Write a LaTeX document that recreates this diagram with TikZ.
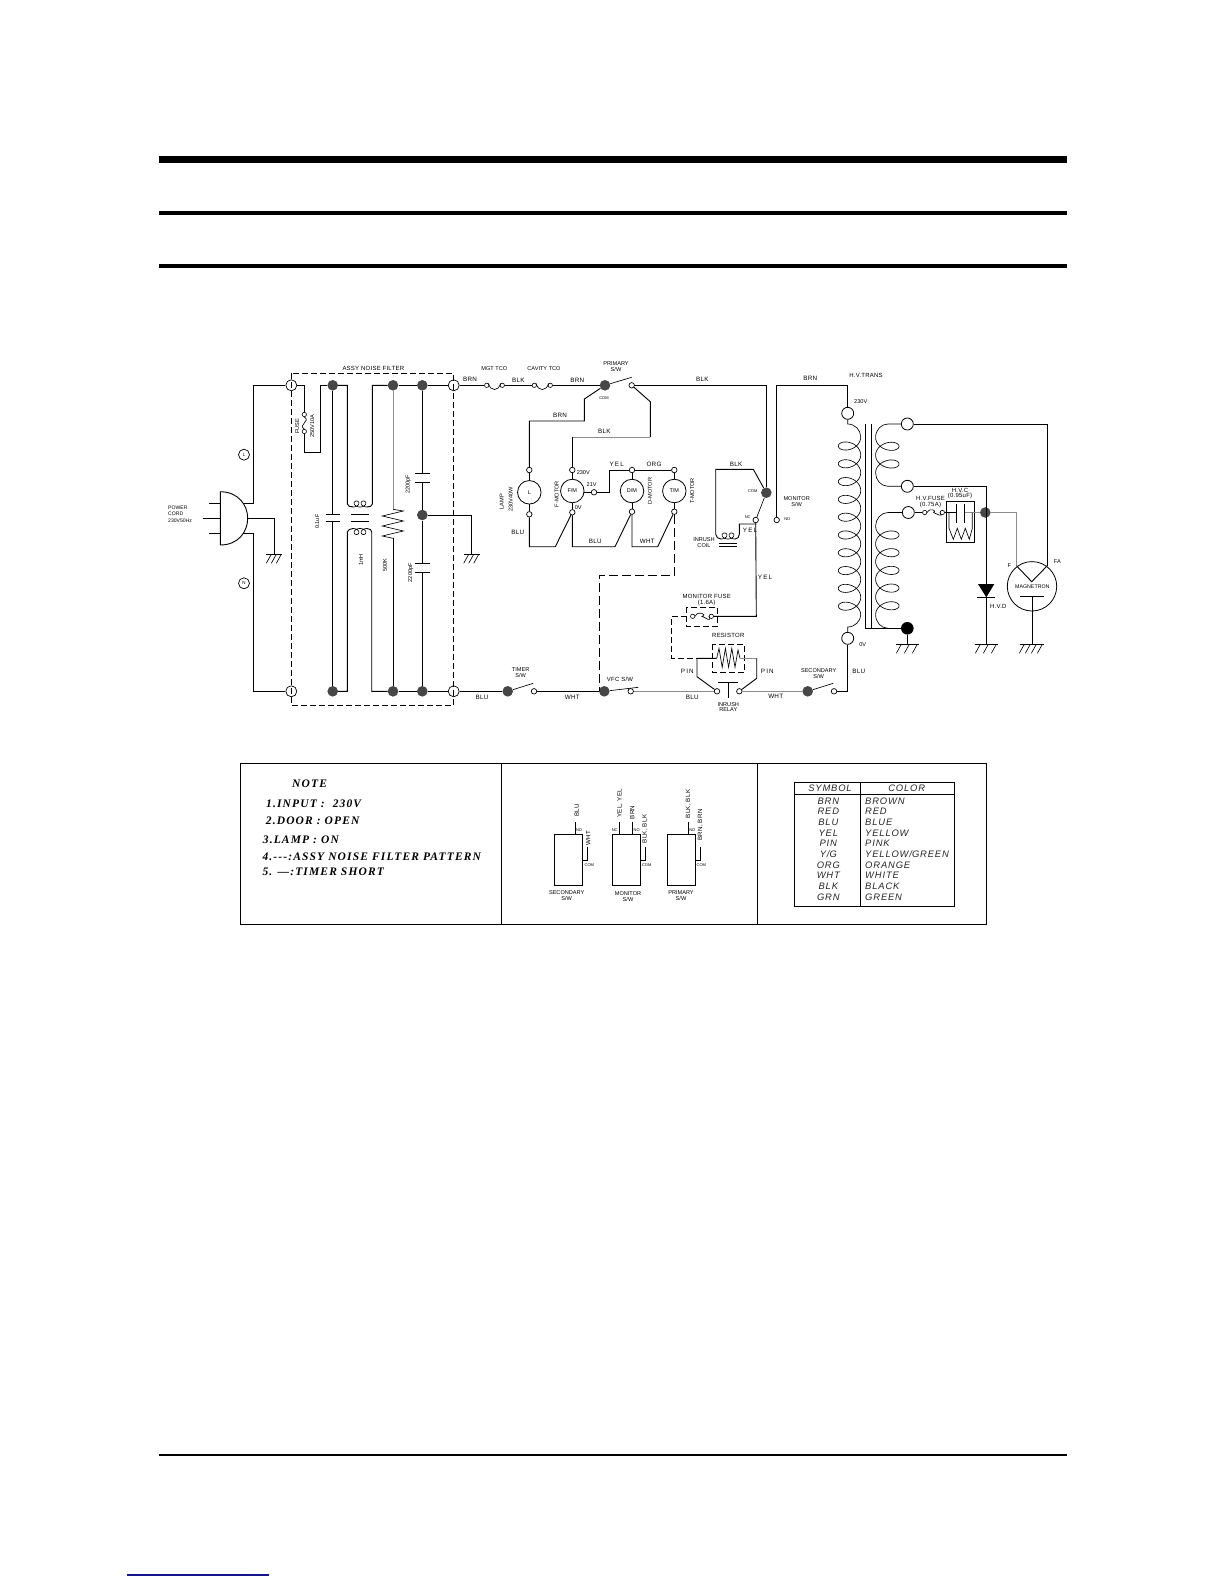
\documentclass[tikz,border=0pt]{standalone}
\usepackage{fontspec}
\setmainfont{Liberation Sans}
\newfontfamily\wirefont[LetterSpace=4]{Liberation Sans}
\newfontfamily\spacedfont[LetterSpace=18]{Liberation Sans}
\newfontfamily\tablefont[LetterSpace=9]{Liberation Sans}
\newfontfamily\notefont[LetterSpace=10]{Liberation Serif}
\usepackage{tikz}
\definecolor{pageBlue}{RGB}{20, 20, 140}
\tikzset{
    wire/.style={line width=0.9pt},
    grayWire/.style={line width=0.9pt, draw=black!45},
    thinLine/.style={line width=0.65pt},
    noiseDash/.style={line width=0.9pt, dash pattern=on 6pt off 3pt},
    shortDash/.style={line width=0.9pt, dash pattern=on 9pt off 4pt},
    term/.style={circle, draw, fill=white, line width=0.7pt, inner sep=0pt, minimum size=5.5pt},
    fuseEnd/.style={circle, draw, fill=white, line width=0.6pt, inner sep=0pt, minimum size=4.4pt},
    portTerm/.style={circle, draw, fill=white, line width=0.7pt, inner sep=0pt, minimum size=11pt},
    hvTerm/.style={circle, draw, fill=white, line width=0.8pt, inner sep=0pt, minimum size=12pt},
    junction/.style={circle, fill=black!72, inner sep=0pt, minimum size=10.6pt},
    motor/.style={circle, draw, line width=0.8pt, inner sep=0pt, minimum size=23.5pt, font=\fontsize{5.5}{6}\selectfont},
    tiny/.style={inner sep=0pt, align=center, font=\fontsize{5.6}{5.9}\selectfont},
    micro/.style={inner sep=0pt, font=\fontsize{4}{4}\selectfont},
    hvText/.style={inner sep=0pt, align=center, font=\wirefont\fontsize{6}{5.8}\selectfont},
    wireText/.style={inner sep=0pt, font=\wirefont\fontsize{6.3}{7}\selectfont},
    wideText/.style={inner sep=0pt, font=\spacedfont\fontsize{6.3}{7}\selectfont},
    swText/.style={inner sep=0pt, rotate=90, font=\wirefont\fontsize{6.2}{6}\selectfont},
    noteText/.style={inner sep=0pt, anchor=west, font=\notefont\bfseries\itshape\fontsize{11.5}{12}\selectfont},
    tableText/.style={inner sep=0pt, text=black!85, font=\tablefont\itshape\fontsize{9.4}{10}\selectfont},
}
\newcommand{\gndmark}[3]{%
    \begin{scope}[shift={(#1)}]
        \draw[wire] (-#2,0) -- (#2,0);
        \foreach \s in {#3} {\draw[thinLine] (\s,0) -- ++(-5,9);}
    \end{scope}}
\newcommand{\coilrun}[3]{plot[domain=0:720, samples=73] ({#1+0.01944*\x+4*sin(\x)},{#2+#3*3*(1-cos(\x))})}
\begin{document}
\begin{tikzpicture}[x=1pt, y=-1pt]
    \useasboundingbox (0,0) rectangle (1224,1584);
    \fill[black] (159,156) rectangle (1067,163);
    \fill[black] (159,210.7) rectangle (1067,215);
    \fill[black] (159,264) rectangle (1067,268.3);
    \fill[black] (159,1453.7) rectangle (1067,1456);
    \fill[pageBlue] (127,1574.3) rectangle (269,1575.6);

    % plug and mains side
    \node[portTerm] (termTL) at (291.3,385.3) {};
    \node[portTerm] (termBL) at (291.3,691.3) {};
    \node[portTerm] (termTR) at (453.7,385.3) {};
    \node[portTerm] (termBR) at (453.7,691.3) {};
    \node[circle, draw, line width=0.7pt, inner sep=0pt, minimum size=11pt, font=\fontsize{4.5}{5}\selectfont] (markL) at (244,454.7) {L};
    \node[circle, draw, line width=0.7pt, inner sep=0pt, minimum size=11pt, font=\fontsize{4.5}{5}\selectfont] (markN) at (244,583.3) {N};
    \coordinate (plugL) at (242.7,503.3);
    \coordinate (plugN) at (242.7,533.3);
    \coordinate (plugG) at (247.7,518.3);
    \coordinate (gndPlug) at (274.3,554.3);
    \draw[wire] (220.3,491.7) .. controls (238,491.7) and (247.7,505) .. (plugG) .. controls (247.7,532) and (238,545) .. (220.3,545) -- cycle;
    \draw[wire] (209,503.3) -- (220.3,503.3);
    \draw[wire] (202.7,518.3) -- (220.3,518.3);
    \draw[wire] (209,533.3) -- (220.3,533.3);
    \draw[wire] (termTL) -- (253.3,385.3) -- (253.3,503.3) -- (plugL);
    \draw[wire] (termBL) -- (253.3,691.3) -- (253.3,533.3) -- (plugN);
    \draw[wire] (plugG) -| (gndPlug);
    \gndmark{gndPlug}{8}{-3,2,7}
    \node[tiny, align=left, anchor=west, font=\fontsize{5.1}{6.6}\selectfont] (powerCord) at (168,514) {POWER\\CORD\\230V50Hz};

    % noise filter
    \node[junction] (dotA) at (332.7,385.3) {};
    \node[junction] (dotB) at (393,385.3) {};
    \node[junction] (dotC) at (422.3,385.3) {};
    \node[junction] (dotD) at (332.7,691.3) {};
    \node[junction] (dotE) at (393,691.3) {};
    \node[junction] (dotF) at (422.3,691.3) {};
    \node[junction] (dotG) at (422.3,515) {};
    \node[fuseEnd] (fuseA) at (304.3,414.5) {};
    \node[fuseEnd] (fuseB) at (304.3,431.5) {};
    \draw[wire] (termTL) -- (304.3,385.3) -- (fuseA);
    \draw[wire] (fuseB) -- (304.3,452.3) -- (320.7,452.3) -- (320.7,385.3) -- (dotA);
    \draw[thinLine] (fuseA.south) .. controls +(7,4) and +(-7,-4) .. (fuseB.north);
    \draw[wire] (dotA) -- (332.7,514);
    \draw[wire] (325.7,514) -- (340,514);
    \draw[wire] (325.7,521.7) -- (340,521.7);
    \draw[wire] (332.7,521.7) -- (dotD);
    \draw[wire] (dotA) -- (347.3,385.3) -- (347.3,504) .. controls (348,506) and (350,507) .. (353,507);
    \draw[thinLine] \coilrun{353}{507}{-1};
    \draw[wire] (367,507) .. controls (370,507) and (372.3,506) .. (372.3,504) -- (372.3,385.3) -- (dotB);
    \draw[wire] (351,514) -- (369,514);
    \draw[wire] (351,521.7) -- (369,521.7);
    \draw[wire] (dotD) -- (347.3,691.3) -- (347.3,532) .. controls (348,530) and (350,528.5) .. (353,528.5);
    \draw[thinLine] \coilrun{353}{528.5}{1};
    \draw[wire] (367,528.5) .. controls (370,528.5) and (371.7,530) .. (371.7,532) -- (371.7,691.3) -- (dotE);
    \draw[grayWire] (dotB) -- (393,509.3);
    \draw[thinLine] (393,509.3) -- (403.3,511) -- (382.3,516) -- (403.3,521) -- (382.3,526) -- (403.3,531) -- (382.3,536) -- (393,538.3);
    \draw[wire] (393,538.3) -- (dotE);
    \draw[wire] (dotB) -- (dotC) -- (termTR);
    \draw[wire] (dotE) -- (dotF) -- (termBR);
    \draw[wire] (dotC) -- (422.3,473.3);
    \draw[wire] (414.8,473.3) -- (429.8,473.3);
    \draw[wire] (414.8,482.3) -- (429.8,482.3);
    \draw[wire] (422.3,482.3) -- (dotG);
    \draw[wire] (dotG) -- (422.3,563.3);
    \draw[wire] (414.8,563.3) -- (429.8,563.3);
    \draw[wire] (414.8,572.3) -- (429.8,572.3);
    \draw[wire] (422.3,572.3) -- (dotF);
    \coordinate (gndFilter) at (471.7,554.3);
    \draw[wire] (dotG) -| (gndFilter);
    \gndmark{gndFilter}{8}{-3,2,7}
    \draw[noiseDash] (291.3,373.3) rectangle (453.7,705.3);
    \node[hvText] (filterName) at (373.3,368) {ASSY NOISE FILTER};
    \node[tiny, rotate=90] (fuseName) at (297.3,426) {FUSE};
    \node[tiny, rotate=90] (fuseVal) at (312.3,426) {250V10A};
    \node[tiny, rotate=90] (capVal) at (317.3,521.7) {0.1uF};
    \node[tiny, rotate=90] (chokeVal) at (361,560) {1mH};
    \node[tiny, rotate=90] (resVal) at (385,565) {500K};
    \node[tiny, rotate=90] (capTop) at (408.3,484.3) {2200pF};
    \node[tiny, rotate=90] (capBot) at (410.7,572.7) {2200pF};

    % top row with door switch
    \node[fuseEnd] (mgtA) at (486.7,385.3) {};
    \node[fuseEnd] (mgtB) at (502.3,385.3) {};
    \node[fuseEnd] (cavA) at (534.3,385.3) {};
    \node[fuseEnd] (cavB) at (550.3,385.3) {};
    \node[junction] (dotPri) at (605,385.3) {};
    \node[term] (termPri) at (631.7,385.3) {};
    \coordinate (bladePri) at (631.7,377.3);
    \draw[wire] (termTR) -- (mgtA);
    \draw[thinLine] (mgtA.north east) .. controls +(2,8) and +(-2,8) .. (mgtB.north west);
    \draw[wire] (mgtB) -- (cavA);
    \draw[thinLine] (cavA.north east) .. controls +(2,8) and +(-2,8) .. (cavB.north west);
    \draw[wire] (cavB) -- (dotPri);
    \draw[thinLine] (dotPri) -- (bladePri);

    % motors
    \node[term] (lampTop) at (529.3,470) {};
    \node[motor] (lamp) at (529.3,492.3) {L};
    \node[term] (lampBot) at (529.3,514.3) {};
    \node[term] (fanTop) at (572.3,470) {};
    \node[motor] (fan) at (572.3,491) {F/M};
    \node[term] (fanBot) at (572.3,512.3) {};
    \node[term] (fanTap) at (594,492.3) {};
    \node[term] (dampTop) at (632,470) {};
    \node[motor] (damp) at (632,491) {D/M};
    \node[term] (dampBot) at (632,511.7) {};
    \node[term] (turnTop) at (674.3,470) {};
    \node[motor] (turn) at (674.3,491) {T/M};
    \node[term] (turnBot) at (674.3,511.7) {};
    \draw[wire] (dotPri) -- (584.3,399) -- (584.3,421) -- (529.3,421) -- (lampTop);
    \draw[wire] (termPri) -- (650.3,401.7) -- (650.3,437);
    \draw[grayWire] (650.3,437) -- (572.3,437);
    \draw[wire] (572.3,437) -- (fanTop);
    \draw[wire] (lampTop) -- (lamp);
    \draw[wire] (lamp) -- (lampBot);
    \draw[wire] (fanTop) -- (fan);
    \draw[wire] (fan) -- (fanBot);
    \draw[wire] (fan.east |- fanTap) -- (fanTap);
    \draw[wire] (fanTap) -- (609.3,492.3) -- (609.3,470) -- (dampTop);
    \draw[wire] (dampTop) -- (turnTop);
    \draw[wire] (dampTop) -- (damp);
    \draw[wire] (damp) -- (dampBot);
    \draw[wire] (turnTop) -- (turn);
    \draw[wire] (turn) -- (turnBot);
    \draw[wire] (lampBot) -- (529.3,546.7) -- (555.3,546.7) -- (fanBot);
    \draw[wire] (fanBot) -- (572.3,546.7) -- (615,546.7) -- (dampBot);
    \draw[wire] (dampBot) -- (632,546.7) -- (657.7,546.7) -- (turnBot);

    % bottom row
    \node[junction] (dotTimer) at (507.7,691.3) {};
    \node[term] (termTimer) at (534,691.3) {};
    \coordinate (bladeTimer) at (533.3,683.3);
    \node[junction] (dotVfc) at (604.3,691.3) {};
    \node[term] (termVfc) at (630.7,691.3) {};
    \coordinate (bladeVfc) at (638.3,687.3);
    \node[term] (relayL) at (717,691.3) {};
    \node[term] (relayR) at (739.3,691.3) {};
    \node[junction] (dotSec) at (807.7,691.3) {};
    \node[term] (termSec) at (834,691.3) {};
    \coordinate (bladeSec) at (833.3,683.3);
    \draw[wire] (termBR) -- (dotTimer);
    \draw[thinLine] (dotTimer) -- (bladeTimer);
    \draw[wire] (termTimer) -- (dotVfc);
    \draw[thinLine] (dotVfc) -- (bladeVfc);
    \draw[grayWire] (termVfc) -- (relayL);
    \draw[grayWire] (relayR) -- (dotSec);
    \draw[thinLine] (dotSec) -- (bladeSec);
    \draw[shortDash] (turnBot) -- (674.3,575.3) -- (599.3,575.3) -- (599.3,691.3);
    \draw[wire] (718.3,682.3) -- (738.3,682.3);
    \draw[wire] (728.3,682.3) -- (728.3,698.3);

    % monitor switch and inrush coil
    \node[junction] (dotMon) at (766.3,492.7) {};
    \node[term] (termNc) at (755.7,520) {};
    \node[term] (termNo) at (776.7,520) {};
    \node[fuseEnd] (monFuseA) at (692.7,616.3) {};
    \node[fuseEnd] (monFuseB) at (711.3,616.3) {};
    \draw[wire] (termPri) -- (766.3,385.3) -- (dotMon);
    \draw[thinLine] (dotMon) -- (termNc);
    \draw[wire] (dotMon) -- (753.3,469.3) -- (715.7,469.3) -- (715.7,534.3) .. controls (716,537) and (718,539) .. (721,539);
    \draw[thinLine] \coilrun{721}{539}{-1};
    \draw[wire] (735,539) .. controls (737.5,539) and (739.3,537) .. (739.3,534.3) -- (739.3,524) -- (756.3,524);
    \draw[wire] (719,543.3) -- (736.7,543.3);
    \draw[wire] (719,546.7) -- (736.7,546.7);
    \draw[wire] (termNc.south) -- (756.3,616.3) -- (monFuseB);
    \draw[thinLine] (monFuseA.east) .. controls +(3,-7) and +(6,-1) .. (702,616.3) .. controls +(3,1) and +(4,7) .. (monFuseB.west);
    \draw[wire] (termNo) -- (776.7,385.3) -- (847.7,385.3) -- (847.7,407);
    \draw[noiseDash] (686.7,607) rectangle (717.7,626.3);
    \draw[noiseDash] (686.7,616.3) -- (671.7,616.3) -- (671.7,658.3) -- (697,658.3);
    \draw[noiseDash] (712.3,644.3) rectangle (744.7,672.3);
    \draw[wire] (relayL) -- (697,676.7) -- (697,658.3) -- (716.7,658.3);
    \draw[thinLine] (716.7,658.3) -- (719,648.3) -- (722.2,667.3) -- (725.4,648.3) -- (728.6,667.3) -- (731.8,648.3) -- (735,667.3) -- (738,650) -- (740,658.3);
    \draw[grayWire] (740,658.3) -- (756.7,658.3);
    \draw[wire] (756.7,658.3) -- (756.7,678.3) -- (relayR);

    % hv transformer
    \node[hvTerm] (hvTop) at (847.7,413.3) {};
    \node[hvTerm] (hvBot) at (847.7,638.3) {};
    \node[hvTerm] (secA) at (907.3,424) {};
    \node[hvTerm] (secB) at (907.3,486.3) {};
    \node[hvTerm] (secC) at (908.3,512.5) {};
    \node[circle, fill=black, inner sep=0pt, minimum size=12.6pt] (coreDot) at (907.3,628.3) {};
    \draw[wire] (termSec) -- (847.7,691.3) -- (hvBot);
    \draw[thinLine] (hvTop) -- (847.7,424) .. controls (855,424) and (860.7,430) .. (860.7,437);
    \draw[thinLine] plot[domain=0:3600, samples=361] ({849.5+11.2*cos(\x)},{446+0.04944*(\x-180)+8*sin(\x)});
    \draw[thinLine] (860.7,615) .. controls (860.7,621) and (855,627) .. (847.7,627) -- (hvBot);
    \draw[wire] (871.3,424) -- (871.3,628.3) -- (865.7,628.3) -- (865.7,424);
    \draw[wire] (871.3,628.3) -- (coreDot);
    \draw[thinLine] (secA) -- (888,424) .. controls (881,424) and (875.6,430) .. (875.6,437.4);
    \draw[thinLine] plot[domain=-180:540, samples=73] ({887.3+11.7*cos(\x)},{446.3+0.04917*\x-8*sin(\x)});
    \draw[thinLine] (875.6,472.9) .. controls (875.6,480) and (881,486.3) .. (888,486.3) -- (secB);
    \draw[thinLine] (secC) -- (888,512.5) .. controls (881,512.5) and (875.6,519) .. (875.6,526);
    \draw[thinLine] plot[domain=-180:1620, samples=181] ({887.3+11.7*cos(\x)},{535+0.04917*\x-8*sin(\x)});
    \draw[thinLine] (875.6,614.6) .. controls (875.6,622) and (881,628.3) .. (888,628.3);
    \coordinate (gndCore) at (907.3,644.3);
    \draw[wire] (coreDot) -- (gndCore);
    \gndmark{gndCore}{11.5}{-6,2,10}

    % hv circuit and magnetron
    \node[junction] (dotHv) at (985.3,512.5) {};
    \node[fuseEnd] (hvFuseA) at (924.7,512.5) {};
    \node[fuseEnd] (hvFuseB) at (942.3,512.5) {};
    \node[circle, draw, line width=0.8pt, inner sep=0pt, minimum size=49.4pt] (magnetron) at (1032,586.3) {};
    \coordinate (gndDiode) at (986.3,644.3);
    \coordinate (gndMag) at (1032.3,644.3);
    \coordinate (magF) at (1016.7,566);
    \coordinate (magFa) at (1047.5,565.5);
    \draw[wire] (secA) -- (1047.5,424) -- (magFa);
    \draw[wire] (secB) -- (986.3,486.3) -- (986.3,584);
    \draw[wire] (secC) -- (hvFuseA);
    \draw[thinLine] (hvFuseA.east) .. controls +(3,-6) and +(4,-1) .. (933.5,512.5) .. controls +(3,1) and +(4,6) .. (hvFuseB.west);
    \draw[wire] (hvFuseB) -- (956,512.5);
    \draw[thinLine] (946.7,501.3) rectangle (974.5,542.2);
    \draw[wire] (956,504) -- (956,523.3);
    \draw[wire] (964.7,504) -- (964.7,523.3);
    \draw[grayWire] (964.7,512.5) -- (dotHv);
    \draw[grayWire] (dotHv) -- (1016.7,512.5) -- (magF);
    \draw[thinLine] (949,512.5) -- (949,528.3) -- (953.3,539.3) -- (957.3,528.3) -- (961.3,539.3) -- (965.3,528.3) -- (969.3,539.3) -- (972.3,528.3) -- (972.3,512.5);
    \fill[black] (978,584) -- (994.3,584) -- (986.3,597.3) -- cycle;
    \draw[wire] (977.3,597.3) -- (995,597.3);
    \draw[wire] (986.3,597.3) -- (gndDiode);
    \gndmark{gndDiode}{11.8}{-6,2,10}
    \draw[wire] (magF) -- (1031.7,581.7) -- (magFa);
    \draw[wire] (1020,596.7) -- (1044,596.7);
    \draw[wire] (1032.3,596.7) -- (gndMag);
    \gndmark{gndMag}{12}{-8,-2,4,10}

    % wire colours
    \node[wireText] (brnA) at (470,379.5) {BRN};
    \node[wireText] (blkA) at (518.3,380) {BLK};
    \node[wireText] (brnB) at (577.3,380) {BRN};
    \node[wireText] (blkB) at (702.3,379.7) {BLK};
    \node[wireText] (brnC) at (810.3,378.7) {BRN};
    \node[wireText] (brnD) at (560,415) {BRN};
    \node[wireText] (blkC) at (604.3,431.3) {BLK};
    \node[wireText] (bluA) at (517.7,532.3) {BLU};
    \node[wireText] (bluB) at (595.3,541.3) {BLU};
    \node[wireText] (whtA) at (647.3,541.3) {WHT};
    \node[wideText] (yelA) at (616.7,464.7) {YEL};
    \node[wireText] (orgA) at (654,464.7) {ORG};
    \node[wireText] (blkD) at (736,464.7) {BLK};
    \node[wideText] (yelB) at (750,530.7) {YEL};
    \node[wideText] (yelC) at (765,577.3) {YEL};
    \node[wireText] (bluC) at (482,697.3) {BLU};
    \node[wireText] (whtB) at (572.3,697.7) {WHT};
    \node[wireText] (bluD) at (692.3,697.3) {BLU};
    \node[wireText] (whtC) at (775.7,696.7) {WHT};
    \node[wireText] (bluE) at (858.7,671.3) {BLU};
    \node[wideText] (pinA) at (687.3,671.7) {PIN};
    \node[wideText] (pinB) at (767.3,671.7) {PIN};

    % part names
    \node[tiny] (tcoA) at (494.3,368.3) {MGT TCO};
    \node[tiny] (tcoB) at (544,368.3) {CAVITY TCO};
    \node[tiny] (priName) at (616,367) {PRIMARY\\S/W};
    \node[micro] (priCom) at (604,398.3) {COM};
    \node[tiny, rotate=90] (lampName) at (501.7,501.7) {LAMP};
    \node[tiny, rotate=90] (lampVal) at (510.7,499.3) {230V40W};
    \node[tiny, rotate=90] (fanName) at (556.7,494) {F-MOTOR};
    \node[tiny, rotate=90] (dampName) at (650,491) {D-MOTOR};
    \node[tiny, rotate=90] (turnName) at (692.3,491) {T-MOTOR};
    \node[tiny] (fan230) at (583.3,473) {230V};
    \node[tiny] (fan21) at (591.7,485) {21V};
    \node[tiny] (fan0) at (578.3,508) {0V};
    \node[micro] (monCom) at (752.7,491) {COM};
    \node[micro] (monNc) at (747.7,516.7) {NC};
    \node[micro] (monNo) at (787.3,519.3) {NO};
    \node[tiny] (monName) at (796.7,501.7) {MONITOR\\S/W};
    \node[tiny] (coilName) at (704,542.5) {INRUSH\\COIL};
    \node[hvText] (fuseMonName) at (706.7,600) {MONITOR FUSE\\(1.6A)};
    \node[hvText] (resName) at (728.3,635.7) {RESISTOR};
    \node[tiny] (relayName) at (728.3,707) {INRUSH\\RELAY};
    \node[tiny] (timerName) at (520.7,672.5) {TIMER\\S/W};
    \node[hvText] (vfcName) at (620,679.3) {VFC S/W};
    \node[tiny] (secName) at (818.7,674) {SECONDARY\\S/W};
    \node[hvText] (hvName) at (866,375.7) {H.V.TRANS};
    \node[tiny] (hv230) at (860.7,401.7) {230V};
    \node[tiny] (hv0) at (862.7,645) {0V};
    \node[hvText] (hvFuseName) at (930.5,502) {H.V.FUSE\\(0.75A)};
    \node[hvText] (hvCapName) at (960,493.5) {H.V.C\\(0.95uF)};
    \node[hvText] (hvdName) at (998.3,606) {H.V.D};
    \node[tiny, font=\fontsize{5.3}{5.8}\selectfont] (magName) at (1032.3,587) {MAGNETRON};
    \node[tiny] (magFName) at (1009.3,565.7) {F};
    \node[tiny] (magFaName) at (1057.3,562) {FA};

    % notes box
    \draw[wire] (240.7,763.7) rectangle (986.3,924);
    \draw[wire] (501.7,763.7) -- (501.7,924);
    \draw[wire] (757.3,763.7) -- (757.3,924);
    \node[noteText] (noteHead) at (292,783.3) {NOTE};
    \node[noteText] (noteA) at (266,803.3) {1.INPUT : \ 230V};
    \node[noteText] (noteB) at (265.7,820.3) {2.DOOR : OPEN};
    \node[noteText] (noteC) at (262.7,840) {3.LAMP : ON};
    \node[noteText] (noteD) at (262.3,856.7) {4.---:ASSY NOISE FILTER PATTERN};
    \node[noteText] (noteE) at (262.3,871.7) {5. \textemdash:TIMER SHORT};

    % switch sketches
    \draw[wire] (554.7,834.3) rectangle (582.7,885);
    \draw[wire] (575.3,834.3) -- (575.3,821.7);
    \draw[wire] (582.7,860.7) -- (587.3,860.7) -- (587.3,846.7);
    \node[swText] (secBlu) at (576.7,810.7) {BLU};
    \node[swText] (secWht) at (588.3,838.3) {WHT};
    \node[micro] (secNo) at (579,830) {NO};
    \node[micro] (secCom) at (589.3,865) {COM};
    \node[tiny] (secSw) at (566.7,896) {SECONDARY\\S/W};

    \draw[wire] (612.3,834.3) rectangle (640.7,885);
    \draw[wire] (619,834.3) -- (619,821.7);
    \draw[wire] (632.3,834.3) -- (632.3,821.7);
    \draw[wire] (640.7,860) -- (645.7,860) -- (645.7,846.7);
    \node[swText] (monYel) at (620,803.3) {YEL, YEL};
    \node[swText] (monBrn) at (632.3,812.3) {BRN};
    \node[swText] (monBlk) at (645,829) {BLK, BLK};
    \node[micro] (monSwNc) at (614.7,830.3) {NC};
    \node[micro] (monSwNo) at (636.7,830.3) {NO};
    \node[micro] (monSwCom) at (646.7,865) {COM};
    \node[tiny] (monSw) at (628,896.5) {MONITOR\\S/W};

    \draw[wire] (667.3,834.3) rectangle (695.3,885);
    \draw[wire] (688.3,834.3) -- (688.3,821.7);
    \draw[wire] (695.3,860) -- (700.3,860) -- (700.3,846.7);
    \node[swText] (priBlk) at (688.3,804) {BLK, BLK};
    \node[swText] (priBrn) at (700.3,825) {BRN, BRN};
    \node[micro] (priNo) at (692.3,830.3) {NO};
    \node[micro] (priSwCom) at (701.3,865) {COM};
    \node[tiny] (priSw) at (681,895.5) {PRIMARY\\S/W};

    % colour table
    \draw[wire] (794.3,782.7) rectangle (954.7,906);
    \draw[wire] (794.3,794.3) -- (954.7,794.3);
    \draw[wire] (860.3,782.7) -- (860.3,906);
    \node[tableText] (symHead) at (830,788.3) {SYMBOL};
    \node[tableText] (colHead) at (906.7,788.3) {COLOR};
    \foreach \sym/\col [count=\i from 0] in {BRN/BROWN, RED/RED, BLU/BLUE, YEL/YELLOW, PIN/PINK, Y\slash G/YELLOW\slash GREEN, ORG/ORANGE, WHT/WHITE, BLK/BLACK, GRN/GREEN} {
        \node[tableText] (sym\i) at (828.3,801+10.67*\i) {\sym};
        \node[tableText, anchor=west] (col\i) at (865,801+10.67*\i) {\col};
    }
\end{tikzpicture}
\end{document}
